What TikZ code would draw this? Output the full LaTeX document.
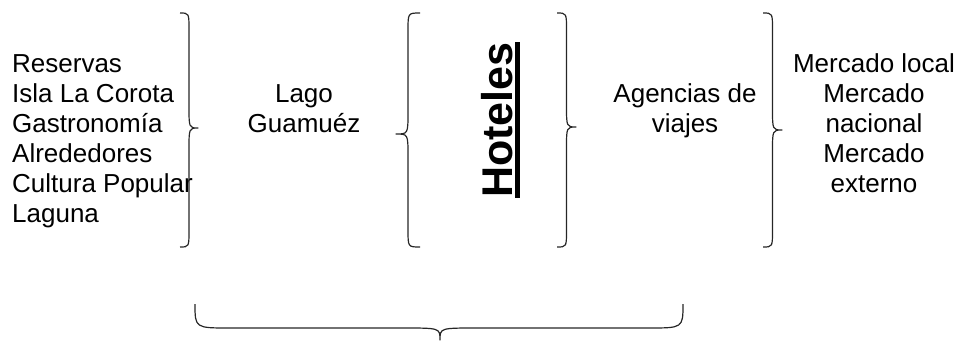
\documentclass[tikz,border=0pt]{standalone}
\usepackage{fontspec}
\setmainfont{Liberation Sans}

\tikzset{
  txt/.style={font=\fontsize{26}{30}\selectfont, inner sep=0pt},
  brc/.style={line width=1.2pt, black!85, line join=round},
}

\begin{document}
\begin{tikzpicture}[x=1pt, y=1pt]
  \useasboundingbox (0,0) rectangle (960,-349);
  % textos (base = ultima linea)
  \node[txt, align=left, anchor=base west] (atract) at (12,-222) {Reservas\\Isla La Corota\\Gastronomía\\Alrededores\\Cultura Popular\\Laguna};
  \node[txt, align=center, anchor=base] (lago) at (304,-132) {Lago\\Guamuéz};
  \node[font=\bfseries\fontsize{43}{50}\selectfont, inner sep=0pt, rotate=90, anchor=base] (hotel) at (512,-120) {Hoteles};
  \draw[line width=4.5pt] ([xshift=5.5pt]hotel.base west) -- ([xshift=5.5pt]hotel.base east);
  \node[txt, align=center, anchor=base] (agen) at (685,-132) {Agencias de\\viajes};
  \node[txt, align=center, anchor=base] (merc) at (874,-192) {Mercado local\\Mercado\\nacional\\Mercado\\externo};
  % llaves
  \foreach \xe/\xm/\xt/\ym in {180/189/198/128, 420/408/396/134, 557/566.5/576/127, 763/772.5/782/130}
    \draw[brc] (\xe,-13) .. controls (\xm,-13) .. (\xm,-30) -- (\xm,-\ym+22) .. controls (\xm,-\ym) .. (\xt,-\ym) .. controls (\xm,-\ym) .. (\xm,-\ym-22) -- (\xm,-230) .. controls (\xm,-247) .. (\xe,-247);
  \draw[brc] (195,-304) .. controls (195,-328) .. (230,-328) -- (403,-328) .. controls (440,-328) .. (440,-340) .. controls (440,-328) .. (477,-328) -- (648,-328) .. controls (683,-328) .. (683,-304);
\end{tikzpicture}
\end{document}
